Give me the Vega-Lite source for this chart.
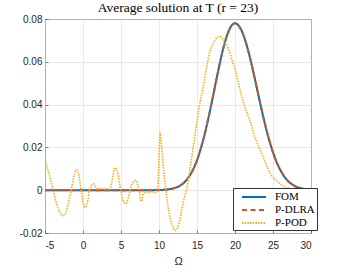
{
  "$schema": "https://vega.github.io/schema/vega-lite/v6.json",
  "width": 266,
  "height": 214,
  "autosize": {"type": "none"},
  "padding": {"left": 45, "top": 19, "right": 33, "bottom": 34},
  "background": "white",
  "title": {"text": "Average solution at T (r = 23)", "font": "Liberation Serif", "fontSize": 13.5, "fontWeight": "normal", "color": "#000000", "offset": 5, "dy": 5, "anchor": "middle", "frame": "group"},
  "config": {
    "view": {"stroke": "#4d4d4d", "strokeWidth": 1},
    "axis": {
      "labelFont": "Liberation Sans", "labelFontSize": 10, "labelColor": "#262626",
      "gridColor": "#dfdfdf", "gridWidth": 0.7, "domain": false,
      "tickColor": "#4d4d4d", "tickSize": -3, "tickWidth": 0.7
    },
    "legend": {
      "orient": "none", "legendX": 188, "legendY": 169,
      "labelFont": "Liberation Serif", "labelFontSize": 11, "labelColor": "#000000",
      "symbolType": "M-2,0H2", "symbolSize": 144, "symbolStrokeWidth": 2, "symbolOffset": 12,
      "strokeColor": "#333333", "fillColor": "white", "padding": 2, "rowPadding": 1,
      "labelOffset": 14, "cornerRadius": 0
    }
  },
  "datasets": {
    "fom": [
      {"x": -5, "v": 0}, {"x": -4, "v": 0}, {"x": -3, "v": 0}, {"x": -2, "v": 0}, {"x": -1, "v": 0},
      {"x": 0, "v": 0}, {"x": 1, "v": 0}, {"x": 2, "v": 0}, {"x": 3, "v": 0}, {"x": 4, "v": 0},
      {"x": 5, "v": 0}, {"x": 6, "v": 0}, {"x": 7, "v": 0}, {"x": 8, "v": 0}, {"x": 9, "v": 0},
      {"x": 9.5, "v": 0.00005}, {"x": 10, "v": 0.0001}, {"x": 10.5, "v": 0.00015}, {"x": 11, "v": 0.0003},
      {"x": 11.5, "v": 0.00055}, {"x": 12, "v": 0.001}, {"x": 12.5, "v": 0.0016}, {"x": 13, "v": 0.0027},
      {"x": 13.5, "v": 0.0043}, {"x": 14, "v": 0.0066}, {"x": 14.5, "v": 0.0098}, {"x": 15, "v": 0.014},
      {"x": 15.5, "v": 0.0195}, {"x": 16, "v": 0.026}, {"x": 16.5, "v": 0.0337}, {"x": 17, "v": 0.0421},
      {"x": 17.5, "v": 0.0508}, {"x": 18, "v": 0.0593}, {"x": 18.5, "v": 0.0669}, {"x": 19, "v": 0.0728},
      {"x": 19.5, "v": 0.0767}, {"x": 20, "v": 0.078}, {"x": 20.5, "v": 0.0768}, {"x": 21, "v": 0.0735},
      {"x": 21.5, "v": 0.0682}, {"x": 22, "v": 0.0615}, {"x": 22.5, "v": 0.0538}, {"x": 23, "v": 0.0457},
      {"x": 23.5, "v": 0.0377}, {"x": 24, "v": 0.0301}, {"x": 24.5, "v": 0.0234}, {"x": 25, "v": 0.0177},
      {"x": 25.5, "v": 0.0129}, {"x": 26, "v": 0.0092}, {"x": 26.5, "v": 0.0063}, {"x": 27, "v": 0.0042},
      {"x": 27.5, "v": 0.0028}, {"x": 28, "v": 0.0017}, {"x": 28.5, "v": 0.0011}, {"x": 29, "v": 0.0006},
      {"x": 29.5, "v": 0.0003}, {"x": 30, "v": 0.0002}
    ],
    "pod": [
      {"x": -5, "v": 0.0143}, {"x": -4.5, "v": 0.008}, {"x": -4, "v": 0.001}, {"x": -3.5, "v": -0.006},
      {"x": -3, "v": -0.0105}, {"x": -2.6, "v": -0.0119}, {"x": -2.2, "v": -0.01}, {"x": -1.8, "v": -0.004},
      {"x": -1.4, "v": 0.003}, {"x": -1.1, "v": 0.008}, {"x": -0.83, "v": 0.0096}, {"x": -0.55, "v": 0.007},
      {"x": -0.3, "v": 0.0015}, {"x": 0, "v": -0.0055}, {"x": 0.26, "v": -0.008}, {"x": 0.55, "v": -0.006},
      {"x": 0.85, "v": -0.0005}, {"x": 1.1, "v": 0.0022}, {"x": 1.36, "v": 0.003}, {"x": 1.6, "v": 0.0018},
      {"x": 1.9, "v": 0.0005}, {"x": 2.3, "v": 0.0008}, {"x": 2.7, "v": 0.0005}, {"x": 3.1, "v": 0.0007},
      {"x": 3.5, "v": 0.0003}, {"x": 3.8, "v": 0.004}, {"x": 4.2, "v": 0.0106}, {"x": 4.6, "v": 0.0075},
      {"x": 5, "v": -0.0005}, {"x": 5.35, "v": -0.0055}, {"x": 5.66, "v": -0.0062}, {"x": 6, "v": -0.003},
      {"x": 6.4, "v": 0.0025}, {"x": 6.97, "v": 0.0046}, {"x": 7.3, "v": 0.001}, {"x": 7.7, "v": -0.0052},
      {"x": 7.95, "v": -0.0015}, {"x": 8.3, "v": -0.0008}, {"x": 8.7, "v": -0.0012}, {"x": 9.1, "v": -0.0008},
      {"x": 9.5, "v": -0.001}, {"x": 9.8, "v": -0.0005}, {"x": 9.95, "v": 0.01}, {"x": 10.13, "v": 0.027},
      {"x": 10.3, "v": 0.022}, {"x": 10.57, "v": 0.011}, {"x": 10.9, "v": 0}, {"x": 11.3, "v": -0.01},
      {"x": 11.7, "v": -0.016}, {"x": 12.1, "v": -0.0188}, {"x": 12.6, "v": -0.016}, {"x": 13, "v": -0.009},
      {"x": 13.3, "v": -0.004}, {"x": 13.6, "v": 0}, {"x": 14, "v": 0.008}, {"x": 14.5, "v": 0.02},
      {"x": 15, "v": 0.032}, {"x": 15.4, "v": 0.041}, {"x": 15.83, "v": 0.0485}, {"x": 16.3, "v": 0.058},
      {"x": 16.7, "v": 0.0649}, {"x": 17.2, "v": 0.069}, {"x": 17.6, "v": 0.0713}, {"x": 18.03, "v": 0.0719},
      {"x": 18.5, "v": 0.07}, {"x": 19.1, "v": 0.0664}, {"x": 19.6, "v": 0.061}, {"x": 20.2, "v": 0.054},
      {"x": 20.8, "v": 0.045}, {"x": 21.5, "v": 0.0368}, {"x": 22, "v": 0.032}, {"x": 22.6, "v": 0.025},
      {"x": 23.3, "v": 0.019}, {"x": 24, "v": 0.013}, {"x": 24.6, "v": 0.008}, {"x": 25.3, "v": 0.005},
      {"x": 26, "v": 0.0028}, {"x": 26.4, "v": 0.0018}, {"x": 27.2, "v": 0.0008}, {"x": 28.5, "v": 0.0002},
      {"x": 30, "v": 0}
    ]
  },
  "encoding": {
    "x": {"field": "x", "type": "quantitative",
      "scale": {"domain": [-5, 30], "nice": false, "zero": false},
      "axis": {"title": "Ω", "titleFont": "Liberation Sans", "titleFontSize": 11, "titleFontWeight": "normal", "titleColor": "#262626", "titlePadding": 5,
        "values": [-5, 0, 5, 10, 15, 20, 25, 30], "labelPadding": 10,
        "labelExpr": "datum.value < 0 ? '-' + abs(datum.value) : '' + datum.value"}},
    "y": {"field": "v", "type": "quantitative",
      "scale": {"domain": [-0.02, 0.08], "nice": false, "zero": false},
      "axis": {"title": null, "values": [-0.02, 0, 0.02, 0.04, 0.06, 0.08], "labelPadding": 6,
        "labelExpr": "datum.value == 0 ? '0' : (datum.value < 0 ? '-' + format(-datum.value, '.2f') : format(datum.value, '.2f'))"}}
  },
  "layer": [
    {
      "data": {"name": "fom"},
      "mark": {"type": "line", "strokeWidth": 2, "interpolate": "monotone", "clip": true},
      "encoding": {
        "color": {"datum": "FOM", "scale": {"domain": ["FOM", "P-DLRA", "P-POD"], "range": ["#0072BD", "#D95319", "#EDB120"]}, "legend": {"title": null}},
        "strokeDash": {"datum": "FOM", "scale": {"domain": ["FOM", "P-DLRA", "P-POD"], "range": [[1, 0], [5, 3.5], [1.5, 1.2]]}, "legend": {"title": null}}
      }
    },
    {
      "data": {"name": "fom"},
      "mark": {"type": "line", "strokeWidth": 2, "interpolate": "monotone", "clip": true},
      "encoding": {
        "color": {"datum": "P-DLRA"},
        "strokeDash": {"datum": "P-DLRA"}
      }
    },
    {
      "data": {"name": "pod"},
      "mark": {"type": "line", "strokeWidth": 1.6, "interpolate": "monotone", "clip": true},
      "encoding": {
        "color": {"datum": "P-POD"},
        "strokeDash": {"datum": "P-POD"}
      }
    }
  ]
}
